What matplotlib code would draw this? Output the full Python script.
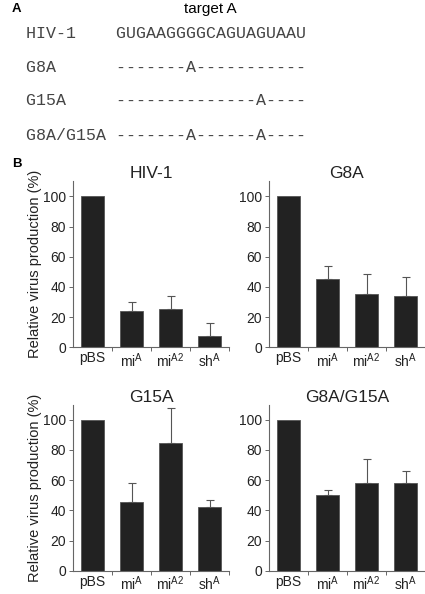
import matplotlib
matplotlib.use("Agg")
import matplotlib.pyplot as plt

plt.rcParams['font.family'] = ['Liberation Sans', 'DejaVu Sans']
plt.rcParams['mathtext.fontset'] = 'custom'
plt.rcParams['mathtext.rm'] = 'Liberation Sans'
plt.rcParams['mathtext.it'] = 'Liberation Sans:italic'

# panel A: target sequences
seq_names = ["HIV-1", "G8A", "G15A", "G8A/G15A"]
seq_rows = ["GUGAAGGGGCAGUAGUAAU",
            "-------A-----------",
            "--------------A----",
            "-------A------A----"]

# panel B: relative virus production (%)
labels = ["pBS", r"mi$^{\mathrm{A}}$", r"mi$^{\mathrm{A2}}$", r"sh$^{\mathrm{A}}$"]
titles = ["HIV-1", "G8A", "G15A", "G8A/G15A"]
means = [[100, 24.2, 25.6, 7.7],
         [100, 45.2, 35.5, 33.9],
         [100, 45.2, 84.6, 42.5],
         [100, 50.0, 58.1, 58.1]]
errs = [[0, 5.5, 8.3, 8.2],
        [0, 8.5, 13.2, 12.4],
        [0, 12.7, 23.1, 4.6],
        [0, 3.5, 15.9, 7.8]]

W, H = 425, 594
fig = plt.figure(figsize=(W / 100, H / 100), dpi=100)

# --- A ---
fig.text(12 / W, 1 - 9 / H, "A", fontsize=9.5, fontweight='bold', ha='left', va='center')
fig.text(210 / W, 1 - 9 / H, "target A", fontsize=11, ha='center', va='center')
ys = [33, 67, 101, 135]
for name, row, y in zip(seq_names, seq_rows, ys):
    fig.text(26 / W, 1 - y / H, name.ljust(9) + row, family='Liberation Mono',
             fontsize=12, ha='left', va='center', color='#444444')

# --- B ---
fig.text(12 / W, 1 - 164 / H, "B", fontsize=9.5, fontweight='bold', ha='left', va='center')

positions = [(73, 347.3), (269, 347.3), (73, 570.7), (269, 570.7)]
ax_w, ax_h = 156, 166
for i in range(4):
    x0, y0 = positions[i]
    ax = fig.add_axes([x0 / W, 1 - y0 / H, ax_w / W, ax_h / H])
    xs = list(range(4))
    ax.bar(xs, means[i], width=0.6, color='#222222', edgecolor='#555555', linewidth=0.6)
    ax.errorbar(xs[1:], means[i][1:], yerr=[[0, 0, 0], errs[i][1:]], fmt='none',
                ecolor='#555555', elinewidth=0.8, capsize=3, capthick=0.8)
    ax.set_xlim(-0.5, 3.5)
    ax.set_ylim(0, 110)
    ax.set_yticks([0, 20, 40, 60, 80, 100])
    ax.set_xticks(xs)
    ax.set_xticklabels(labels)
    ax.set_xticks([0.5, 1.5, 2.5, 3.5], minor=True)
    ax.tick_params(axis='x', which='major', length=0, pad=3, labelsize=10, colors='#222222')
    ax.tick_params(axis='x', which='minor', length=3, width=0.7, direction='out', color='#666666')
    ax.tick_params(axis='y', length=3, width=0.7, direction='out', color='#666666',
                   labelsize=10, labelcolor='#222222', pad=2)
    for s in ['top', 'right']:
        ax.spines[s].set_visible(False)
    for s in ['left', 'bottom']:
        ax.spines[s].set_color('#666666')
        ax.spines[s].set_linewidth(0.8)
    ax.set_title(titles[i], fontsize=12.5, pad=2, color='#222222')
    if i % 2 == 0:
        ax.set_ylabel("Relative virus production (%)", fontsize=10.5, color='#222222', labelpad=1)

fig.savefig("out.png", dpi=100)
